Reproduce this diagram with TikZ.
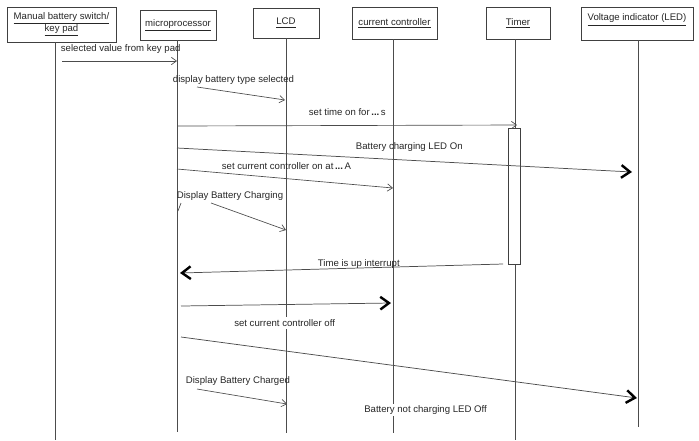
\documentclass[tikz,border=0pt]{standalone}
\usepackage{fontspec}
\setmainfont{Liberation Sans}
\usetikzlibrary{arrows.meta}
\begin{document}
\begin{tikzpicture}[x=0.75pt,y=-0.75pt,
  every node/.style={font=\fontsize{7.2}{9}\selectfont, text=black!85},
  hdr/.style={draw=black!75, line width=0.65pt, fill=white, align=center, inner sep=1pt},
  life/.style={draw=black!70, line width=0.7pt},
  msg/.style={anchor=west, inner sep=0.5pt},
  thinarr/.style={draw=black!70, line width=0.5pt, -{Straight Barb[length=3.8pt,width=5.5pt]}},
  boldarr/.style={draw=black!70, line width=0.55pt, -{Straight Barb[length=6.5pt,width=9.5pt,line width=1.8pt,color=black]}}]
\useasboundingbox (0,0) rectangle (699,440);

% header boxes
\node[hdr, minimum width=81.75pt, minimum height=26.25pt] (kp) at (61.5,24.5)
  {\underline{Manual battery switch/}\\\underline{key pad}};
\node[hdr, minimum width=57pt, minimum height=22.5pt] (mp) at (178,25) {\underline{microprocessor}};
\node[hdr, minimum width=49.5pt, minimum height=22.5pt] (lcd) at (286,23) {\underline{LCD}};
\node[hdr, minimum width=63.75pt, minimum height=24pt] (cc) at (394.5,23) {\underline{current controller}};
\node[hdr, minimum width=48pt, minimum height=24pt] (tm) at (518,23) {\underline{Timer}};
\node[hdr, minimum width=84pt, minimum height=24.75pt] (led) at (637,23.5)
  {\underline{Voltage indicator (LED)}\\\mbox{}};

% lifeline ends
\coordinate (kpe) at (55,440);
\coordinate (mpe) at (177,432);
\coordinate (lcde) at (286,433);
\coordinate (cce) at (393,433);
\coordinate (tme) at (515,440);
\coordinate (lede) at (638,427);
\draw[life] (kp.south -| kpe) -- (kpe);
\draw[life] (mp.south -| mpe) -- (mpe);
\draw[life] (lcd.south -| lcde) -- (lcde);
\draw[life] (cc.south -| cce) -- (cce);
\draw[life] (tm.south -| tme) -- (tme);
\draw[life] (led.south -| lede) -- (lede);

% activation on timer
\node[draw=black!75, line width=0.6pt, fill=white, minimum width=9pt, minimum height=102pt, inner sep=0pt] (act) at (514,196) {};

% message end points
\coordinate (a1) at (62,61);   \coordinate (b1) at (177,61);
\coordinate (a2) at (197,87);  \coordinate (b2) at (285,100);
\coordinate (a3) at (177,126); \coordinate (b3) at (517,125);
\coordinate (a4) at (177,148); \coordinate (b4) at (632,172);
\coordinate (a5) at (177,169); \coordinate (b5) at (393,188);
\coordinate (a6) at (211,203); \coordinate (b6) at (286,230);
\coordinate (a7) at (503,264); \coordinate (b7) at (180,273);
\coordinate (a8) at (181,306); \coordinate (b8) at (391,303);
\coordinate (a9) at (181,337); \coordinate (b9) at (637,398);
\coordinate (a10) at (197,389);\coordinate (b10) at (287,404);
\coordinate (s1) at (181,203); \coordinate (s2) at (178,211);

% messages
\draw[thinarr] (a1) -- (b1);
\draw[thinarr] (a2) -- (b2);
\draw[thinarr] (a3) -- (b3);
\draw[boldarr] (a4) -- (b4);
\draw[thinarr] (a5) -- (b5);
\draw[thinarr] (a6) -- (b6);
\draw[boldarr] (a7) -- (b7);
\draw[boldarr] (a8) -- (b8);
\draw[boldarr] (a9) -- (b9);
\draw[thinarr] (a10) -- (b10);
\draw[draw=black!70, line width=0.5pt] (s1) -- (s2);

% labels
\node[msg] (l1) at (60,49) {selected value from key pad};
\node[msg] (l2) at (172,80) {display battery type selected};
\node[msg] (l3) at (308,112) {set time on for\,\textbf{...}\,s};
\node[msg] (l4) at (355,147) {Battery charging LED On};
\node[msg] (l5) at (221,166) {set current controller on at\,\textbf{...}\,A};
\node[msg] (l6) at (176,196) {Display Battery Charging};
\node[msg] (l7) at (317,264) {Time is up interrupt};
\node[msg, fill=white, inner sep=1.5pt] (l8) at (232,323) {set current controller off};
\node[msg] (l10) at (185,381) {Display Battery Charged};
\node[msg, fill=white, inner sep=1.5pt] (l9) at (362,410) {Battery not charging LED Off};
\end{tikzpicture}
\end{document}
